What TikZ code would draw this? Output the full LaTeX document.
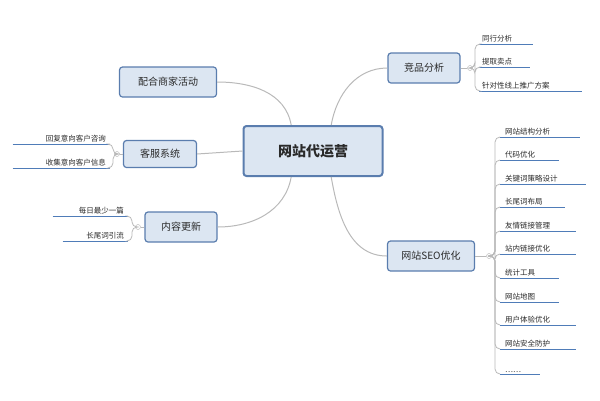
\documentclass[tikz,border=0pt]{standalone}
\usepackage{fontspec}
\usetikzlibrary{calc}
\setmainfont{Noto Sans CJK SC}
\begin{document}
\begin{tikzpicture}[x=1pt,y=-1pt,
  box/.style={draw=boxb,fill=boxf,rounded corners=3pt,line width=1.2pt,font=\fontsize{10}{11}\selectfont,text=txt,inner sep=0pt},
  leaf/.style={anchor=south west,font=\fontsize{7.5}{8}\selectfont,text=txt,inner sep=1.5pt,inner xsep=3pt},
  uline/.style={draw=lineb,line width=1pt},
  conn/.style={draw=gray!55,line width=1pt},
  brk/.style={draw=gray!55,line width=0.8pt,rounded corners=5pt},
  dot/.style={circle,draw=gray!60,fill=white,inner sep=0pt,minimum size=5pt}]
\definecolor{boxb}{HTML}{5A7DAE}
\definecolor{boxf}{HTML}{DCE6F2}
\definecolor{txt}{HTML}{2A2A2A}
\definecolor{lineb}{HTML}{4F7CB8}
\useasboundingbox (0,0) rectangle (600,400);
\node[box,minimum width=139,minimum height=50,line width=2pt,font=\fontsize{14}{15}\selectfont\bfseries] (m) at (313,151) {网站代运营};
\node[box,minimum width=97,minimum height=30] (p) at (168,82) {配合商家活动};
\node[box,minimum width=73,minimum height=27] (k) at (160,154) {客服系统};
\node[box,minimum width=72,minimum height=30] (n) at (181,227) {内容更新};
\node[box,minimum width=72,minimum height=30] (j) at (424,68) {竞品分析};
\node[box,minimum width=87,minimum height=30] (s) at (431,256) {网站SEO优化};
\draw[conn] (m.130) to[out=100,in=0] (p.east);
\draw[conn] (m.west) -- (k.east);
\draw[conn] (m.-130) to[out=-100,in=0] (n.east);
\draw[conn] (m.55) to[out=80,in=180] (j.west);
\draw[conn] (m.-55) to[out=-80,in=180] (s.west);
% right leaves of j
\node[dot] (jd) at (470,68) {};
\draw[conn] (j.east) -- (jd);
\foreach \t/\y/\w [count=\i] in {同行分析/44/48,提取卖点/67/45,针对性线上推广方案/91/97}{
  \node[leaf,text width=\w,align=left] (jl\i) at (479,\y) {\t};
  \draw[uline] (jl\i.south west) -- (jl\i.south east);
  \draw[brk] (jd.east) -| ($(jl\i.south west)+(-4,0)$) -- (jl\i.south west);
}
% SEO leaves
\node[dot] (sd) at (489,256) {};
\draw[conn] (s.east) -- (sd);
\foreach \t/\y/\w [count=\i] in {网站结构分析/137/70,代码优化/160/49,关键词策略设计/184/76,长尾词布局/207/55,友情链接管理/231/66,站内链接优化/254/66,统计工具/278/49,网站地图/302/49,用户体验优化/325/66,网站安全防护/349/66,……/374/30}{
  \node[leaf,text width=\w,align=left,inner xsep=5pt] (sl\i) at (500,\y) {\t};
  \draw[uline] (sl\i.south west) -- (sl\i.south east);
  \draw[brk] (sd.east) -| ($(sl\i.south west)+(-5,0)$) -- (sl\i.south west);
}
% left leaves of k
\node[dot] (kd) at (117,154) {};
\draw[conn] (k.west) -- (kd);
\node[leaf,anchor=south east,text width=89,align=right,inner xsep=4pt] (kl1) at (110,144) {回复意向客户咨询};
\node[leaf,anchor=south east,text width=89,align=right,inner xsep=4pt] (kl2) at (110,168) {收集意向客户信息};
\foreach \i in {1,2}{
  \draw[uline] (kl\i.south west) -- (kl\i.south east);
  \draw[brk] (kd.west) -| ($(kl\i.south east)+(3,0)$) -- (kl\i.south east);
}
% left leaves of n
\node[dot] (nd) at (138,227) {};
\draw[conn] (n.west) -- (nd);
\node[leaf,anchor=south east,text width=67,align=right,inner xsep=4pt] (nl1) at (128,216) {每日最少一篇};
\node[leaf,anchor=south east,text width=57,align=right,inner xsep=4pt] (nl2) at (128,241) {长尾词引流};
\foreach \i in {1,2}{
  \draw[uline] (nl\i.south west) -- (nl\i.south east);
  \draw[brk] (nd.west) -| ($(nl\i.south east)+(4,0)$) -- (nl\i.south east);
}
\end{tikzpicture}
\end{document}
